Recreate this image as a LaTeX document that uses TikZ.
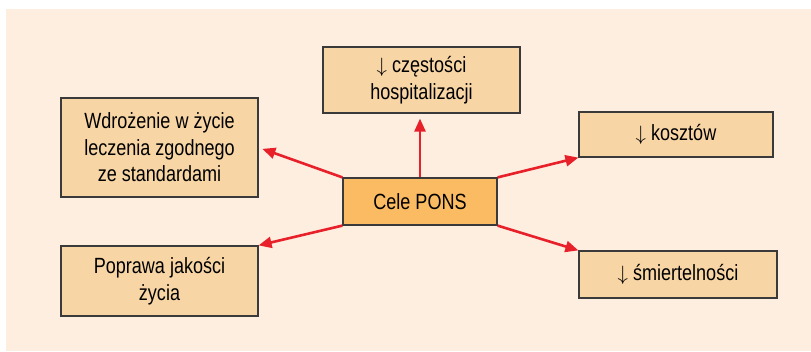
\documentclass[tikz,border=0pt]{standalone}
\usepackage{fontspec}
\setmainfont{Liberation Sans}[FakeStretch=0.82]
\definecolor{pons-bg}{HTML}{FDEEE0}
\definecolor{pons-box}{HTML}{F8D5A5}
\definecolor{pons-main}{HTML}{FBBB63}
\definecolor{pons-red}{HTML}{E8202A}
\definecolor{pons-line}{HTML}{3A3A3A}
\usetikzlibrary{arrows.meta,positioning}

\begin{document}
\begin{tikzpicture}[x=1pt, y=-1pt,
  box/.style={rectangle, draw=pons-line, fill=pons-box, line width=1.2pt,
              align=center, font=\fontsize{22}{26.5}\selectfont, inner sep=0pt},
  main/.style={box, fill=pons-main},
  arr/.style={-{Triangle[length=13pt,width=11pt]}, line width=2.6pt, pons-red}]

  \useasboundingbox (0,0) rectangle (811,351);
  \fill[pons-bg] (6,9) rectangle (811,351);

  \node[main, minimum width=154pt, minimum height=47pt] (cele) at (420,201.5) {Cele PONS};
  \node[box, minimum width=197pt, minimum height=66pt] (czest) at (421.5,80) {$\downarrow$\ częstości\\hospitalizacji};
  \node[box, minimum width=197pt, minimum height=99pt] (wdroz) at (159.5,147.5) {Wdrożenie w życie\\leczenia zgodnego\\ze standardami};
  \node[box, minimum width=194pt, minimum height=45pt] (koszt) at (676,134.5) {$\downarrow$\ kosztów};
  \node[box, minimum width=197pt, minimum height=70pt] (popr) at (159.5,281) {Poprawa jakości\\życia};
  \node[box, minimum width=198pt, minimum height=47pt] (smierc) at (678,274.5) {$\downarrow$\ śmiertelności};

  \draw[arr, shorten >=5pt] (cele.north) -- (cele.north |- czest.south);
  \draw[arr, shorten >=4pt] (cele.north west) -- (wdroz.east);
  \draw[arr] (cele.north east) -- (koszt.south west);
  \draw[arr] (cele.south west) -- (popr.north east);
  \draw[arr] (cele.south east) -- (smierc.north west);

\end{tikzpicture}
\end{document}
